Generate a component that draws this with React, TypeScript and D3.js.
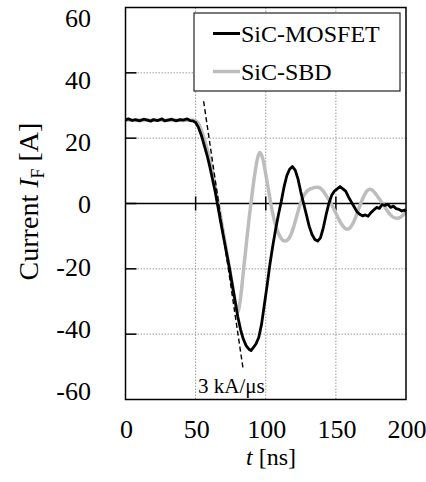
import React from "react";
import * as d3 from "d3";

// ---- data (t in ns, current in A) ----
const mosfetT = [0, 2, 5, 7, 10, 13, 15, 18, 20, 23, 26, 28, 31, 33, 36, 39, 41, 44, 46, 48, 50, 52, 54, 56, 58, 60, 62, 64, 66, 68, 70, 72, 74, 76, 78, 80, 82, 84, 86, 88, 89.5, 91, 93, 95, 97, 99, 101, 103, 105, 107, 109, 111, 113, 115, 117, 119, 121, 123, 125, 127, 129, 131, 133, 135, 137, 139, 141, 143, 145, 147, 149, 151, 153, 155, 157, 159, 161, 163, 165, 167, 169, 171, 173, 175, 177, 179, 181, 183, 185, 187, 189, 191, 193, 195, 197, 199, 200];
const mosfetI = [25.6, 25.9, 25.4, 25.7, 25.3, 25.8, 25.6, 25.2, 25.7, 25.4, 25.9, 25.3, 25.6, 25.8, 25.3, 25.7, 25.5, 25.9, 25.4, 25.3, 24.8, 23.3, 21, 18, 15, 11.5, 7.5, 3.5, -1.2, -6, -10.5, -15, -19.5, -24.5, -29.5, -34.5, -38.5, -41.5, -43.5, -44.6, -45, -44.2, -43, -41, -37, -31, -25, -18.5, -13, -8, -3.5, 0.5, 5, 8.5, 10.5, 11.3, 10.2, 7.5, 3.5, 0, -3.5, -7, -9.5, -11, -11.5, -10.5, -7.5, -3.5, 0, 2.5, 3.8, 4.5, 5.2, 4.5, 3.8, 2.0, 0.5, -1, -2.5, -3.3, -3.8, -3.5, -3.9, -2.8, -2, -1.2, -1.5, -0.3, -0.6, -0.2, -1.2, -0.8, -1.6, -1.8, -2.3, -2.0, -2.5];

const sbdT = [0, 48, 50, 52, 54, 56, 58, 60, 62, 64, 66, 68, 70, 72, 74, 76, 78, 80, 82, 84, 86, 88, 90, 92, 94, 95.6, 97, 98, 100, 102, 104, 106, 108, 110, 112, 114, 116, 118, 120, 122, 124, 126, 128, 130, 132, 134, 136, 138, 140, 142, 144, 146, 148, 150, 152, 154, 156, 158, 160, 162, 164, 166, 168, 170, 172, 174, 176, 178, 180, 182, 184, 186, 188, 190, 192, 194, 196, 198, 200];
const sbdI = [25.5, 25.5, 25.3, 24.5, 22.5, 20, 17, 13.5, 9.5, 5, 0.5, -4.5, -9.5, -14.5, -19.5, -24.5, -29.5, -33.2, -29, -21, -13, -5, 2, 8.5, 13.5, 15.6, 14.8, 13.5, 9, 4, -1, -5, -8, -10, -11.2, -11.5, -11, -9.5, -7, -4, -1, 1.5, 3, 4, 4.5, 4.8, 5, 4.9, 4.3, 3.2, 1.8, 0.4, -1.2, -3, -4.8, -6.3, -7.4, -7.9, -7.5, -6.2, -4.3, -2, 0.3, 2.3, 3.8, 4.4, 4.1, 3.2, 2, 0.8, -0.5, -1.8, -3, -3.9, -4.4, -4.5, -4.2, -3.5, -2.6];

const slopeT = [55.7, 83.7];
const slopeI = [31.3, -50.2];

const xTicks = [0, 50, 100, 150, 200];
const yTicks = [60, 40, 20, 0, -20, -40, -60];
const seriesNames = ["SiC-MOSFET", "SiC-SBD"];
const seriesColors = ["#000000", "#bdbdbd"];
const slopeLabel = "3 kA/μs";

const FONT = '"Liberation Serif", "Times New Roman", Times, serif';

export default function App() {
  const W = 426, H = 482;
  const left = 125.5, right = 406, top = 7.5, bottom = 399.5;
  const x = d3.scaleLinear().domain([0, 200]).range([left, right]);
  const y = d3.scaleLinear().domain([60, -60]).range([top, bottom]);
  const yLab = d3.scaleLinear().domain([60, -60]).range([17.5, 391]);

  const line = d3
    .line<[number, number]>()
    .x((d) => x(d[0]))
    .y((d) => y(d[1]))
    .curve(d3.curveMonotoneX);
  const lineLin = d3
    .line<[number, number]>()
    .x((d) => x(d[0]))
    .y((d) => y(d[1]));

  const mosfet = mosfetT.map((t, i) => [t, mosfetI[i]] as [number, number]);
  const sbd = sbdT.map((t, i) => [t, sbdI[i]] as [number, number]);
  const slope = slopeT.map((t, i) => [t, slopeI[i]] as [number, number]);

  const legX = 194, legY = 13, legW = 206, legH = 78;
  const tStyle = { fontFamily: FONT };

  return (
    <svg
      width={W}
      height={H}
      style={{ position: "absolute", left: 0, top: 0, background: "#fff", fontFamily: FONT }}
    >
      {/* grid */}
      {xTicks.filter((t) => t > 0 && t < 200).map((t) => (
        <line key={"gx" + t} x1={x(t)} x2={x(t)} y1={top} y2={bottom} stroke="#9a9a9a" strokeWidth={1} strokeDasharray="1.5,1.5" />
      ))}
      {yTicks.filter((v) => v !== 0 && v !== 60 && v !== -60).map((v) => (
        <line key={"gy" + v} x1={left} x2={right} y1={y(v)} y2={y(v)} stroke="#9a9a9a" strokeWidth={1} strokeDasharray="1.5,1.5" />
      ))}
      {/* y inward ticks */}
      {yTicks.filter((v) => v !== 60 && v !== -60).map((v) => (
        <line key={"ty" + v} x1={left} x2={left + 11} y1={y(v)} y2={y(v)} stroke="#000" strokeWidth={1.5} />
      ))}
      {/* zero axis */}
      <line x1={left} x2={right} y1={y(0)} y2={y(0)} stroke="#000" strokeWidth={1.5} />
      {xTicks.filter((t) => t > 0 && t < 200).map((t) => (
        <line key={"tx" + t} x1={x(t)} x2={x(t)} y1={y(0) - 7} y2={y(0) + 7} stroke="#000" strokeWidth={1.5} />
      ))}

      {/* series */}
      <path d={line(sbd) || ""} fill="none" stroke={seriesColors[1]} strokeWidth={3.5} strokeLinejoin="round" />
      <path d={lineLin(mosfet) || ""} fill="none" stroke={seriesColors[0]} strokeWidth={2.8} strokeLinejoin="round" />
      <path d={lineLin(slope) || ""} fill="none" stroke="#000" strokeWidth={1.4} strokeDasharray="5,3" />
      <text x={198} y={393} fontSize={21} fill="#000" style={tStyle}>{slopeLabel}</text>

      {/* frame */}
      <rect x={left} y={top} width={right - left} height={bottom - top} fill="none" stroke="#000" strokeWidth={1.5} />

      {/* legend */}
      <rect x={legX} y={legY} width={legW} height={legH} fill="#fff" stroke="#222" strokeWidth={1.2} />
      {seriesNames.map((n, i) => (
        <g key={n}>
          <line x1={213} x2={240} y1={33.5 + i * 38} y2={33.5 + i * 38} stroke={seriesColors[i]} strokeWidth={i === 0 ? 3 : 3.5} />
          <text x={241} y={41.5 + i * 38.5} fontSize={24} fill="#000" style={tStyle}>{n}</text>
        </g>
      ))}

      {/* tick labels */}
      {yTicks.map((v) => (
        <text key={"ly" + v} x={91} y={yLab(v)} dy="0.35em" textAnchor="end" fontSize={26} fill="#000" style={tStyle}>{v}</text>
      ))}
      {xTicks.map((t) => (
        <text key={"lx" + t} x={x(t) + 1} y={438} textAnchor="middle" fontSize={26} fill="#000" style={tStyle}>{t}</text>
      ))}

      {/* axis titles */}
      <text x={271} y={465} textAnchor="middle" fontSize={24} fill="#000" style={tStyle}>
        <tspan fontStyle="italic">t</tspan> [ns]
      </text>
      <text transform={`translate(38,201.5) rotate(-90)`} textAnchor="middle" fontSize={28} fill="#000" style={tStyle}>
        Current <tspan fontStyle="italic">I</tspan>
        <tspan fontSize={18} dy={6}>F</tspan>
        <tspan dy={-6}> [A]</tspan>
      </text>
    </svg>
  );
}
